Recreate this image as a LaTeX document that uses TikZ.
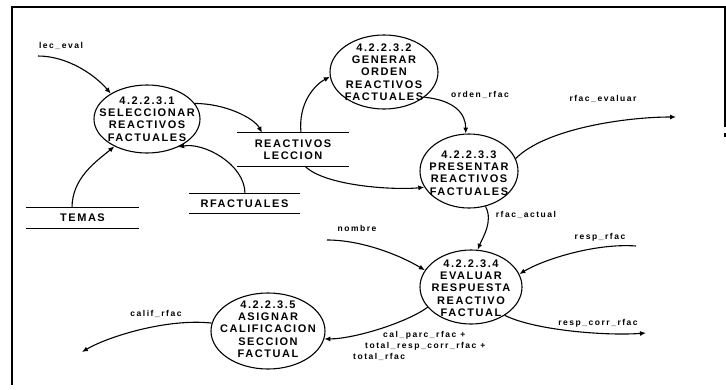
\documentclass[tikz,border=0pt]{standalone}
\usepackage{fontspec}
\setmainfont{Liberation Sans}
\newfontfamily\procfont{Liberation Sans}[LetterSpace=14]
\newfontfamily\flowfont{Liberation Sans}[LetterSpace=18]
\usetikzlibrary{arrows.meta,shapes.geometric}
\begin{document}
\begin{tikzpicture}[x=1pt,y=-1pt,
  proc/.style={draw,ellipse,line width=1.1pt,inner sep=0pt},
  ptext/.style={font=\procfont\bfseries\fontsize{11}{12.3}\selectfont,align=center,inner sep=0pt},
  store/.style={inner sep=0pt},
  stline/.style={line width=1.1pt},
  flab/.style={font=\flowfont\bfseries\fontsize{8.5}{11}\selectfont,inner sep=0pt},
  flow/.style={line width=1.1pt,-{Latex[length=6pt,width=5pt]}},
  frame/.style={line width=1.4pt}]
\useasboundingbox (0,0) rectangle (726,389);

% frame
\draw[frame] (12,385) -- (12,7) -- (725,7) -- (725,127);
\draw[frame] (725,133) -- (725,137);

% processes
\node[proc,minimum width=106pt,minimum height=68pt] (e1) at (147,119) {};
\node[ptext] (t1) at (e1.center) {4.2.2.3.1\\SELECCIONAR\\REACTIVOS\\FACTUALES};
\node[proc,minimum width=108pt,minimum height=74pt] (e2) at (384,72) {};
\node[ptext] (t2) at (e2.center) {4.2.2.3.2\\GENERAR\\ORDEN\\REACTIVOS\\FACTUALES};
\node[proc,minimum width=98pt,minimum height=74pt] (e3) at (469,171) {};
\node[ptext] (t3) at ([yshift=-2pt]e3.center) {4.2.2.3.3\\PRESENTAR\\REACTIVOS\\FACTUALES};
\node[proc,minimum width=102pt,minimum height=74pt] (e4) at (471,287) {};
\node[ptext] (t4) at ([yshift=-1pt]e4.center) {4.2.2.3.4\\EVALUAR\\RESPUESTA\\REACTIVO\\FACTUAL};
\node[proc,minimum width=114pt,minimum height=76pt] (e5) at (268,331) {};
\node[ptext] (t5) at ([yshift=2pt]e5.center) {4.2.2.3.5\\ASIGNAR\\CALIFICACION\\SECCION\\FACTUAL};

% data stores
\node[store,minimum width=112pt,minimum height=33pt] (rl) at (293,149.5) {};
\node[ptext] (rlt) at (rl.center) {REACTIVOS\\LECCION};
\draw[stline] (rl.north west) -- (rl.north east) (rl.south west) -- (rl.south east);
\node[store,minimum width=111pt,minimum height=19pt] (rf) at (244.5,203.5) {};
\node[ptext] (rft) at (rf.center) {RFACTUALES};
\draw[stline] (rf.north west) -- (rf.north east) (rf.south west) -- (rf.south east);
\node[store,minimum width=113pt,minimum height=20pt] (tm) at (82.5,218) {};
\node[ptext] (tmt) at (tm.center) {TEMAS};
\draw[stline] (tm.north west) -- (tm.north east) (tm.south west) -- (tm.south east);

% free ends
\coordinate (lecS) at (38,56);
\coordinate (evalE) at (676,117);
\coordinate (nomS) at (327,240);
\coordinate (respS) at (636,246);
\coordinate (corrE) at (646,333);
\coordinate (califE) at (82,352);

% flows
\draw[flow] (lecS) .. controls +(30,0) and +(-15,-18) .. (e1.145);
\draw[flow] (e1.18) .. controls +(30,0) and +(-8,-15) .. ([xshift=-31pt]rl.north);
\draw[flow] ([xshift=-10.5pt]tm.north) .. controls +(0,-30) and +(-18,15) .. (e1.-140);
\draw[flow] ([xshift=0.5pt]rf.north) .. controls +(0,-30) and +(25,-5) .. (e1.-42);
\draw[flow] ([xshift=8pt]rl.north) .. controls +(-3,-30) and +(-15,8) .. (e2.185);
\draw[flow] ([xshift=12pt]rl.south) .. controls +(20,20) and +(-30,3) .. (e3.200);
\draw[flow] (e2.-32) .. controls +(30,3) and +(0,-20) .. (e3.95);
\draw[flow] (e3.15) .. controls +(30,-30) and +(-50,0) .. (evalE);
\draw[flow] (e3.-65) .. controls +(8,15) and +(5,-12) .. (e4.80);
\draw[flow] (nomS) .. controls +(35,0) and +(-25,-15) .. (e4.160);
\draw[flow] (respS) .. controls +(-40,-3) and +(25,-15) .. (e4.15);
\draw[flow] (e4.-40) .. controls +(30,15) and +(-40,3) .. (corrE);
\draw[flow] (e4.205) .. controls +(-20,15) and +(30,0) .. (e5.-8);
\draw[flow] (e5.172) .. controls +(-45,-5) and +(25,-15) .. (califE);

% flow labels
\node[flab] (l1) at (61,46) {lec\_eval};
\node[flab] (l2) at (480,95) {orden\_rfac};
\node[flab] (l3) at (603,99) {rfac\_evaluar};
\node[flab] (l4) at (526,215) {rfac\_actual};
\node[flab] (l5) at (357,228) {nombre};
\node[flab] (l6) at (600,237) {resp\_rfac};
\node[flab] (l7) at (598,323) {resp\_corr\_rfac};
\node[flab] (l8) at (156,314) {calif\_rfac};
\node[flab,align=left,anchor=west] (l9) at (353,346)
  {\hspace*{30pt}cal\_parc\_rfac +\\\hspace*{12pt}total\_resp\_corr\_rfac +\\total\_rfac};
\end{tikzpicture}
\end{document}
